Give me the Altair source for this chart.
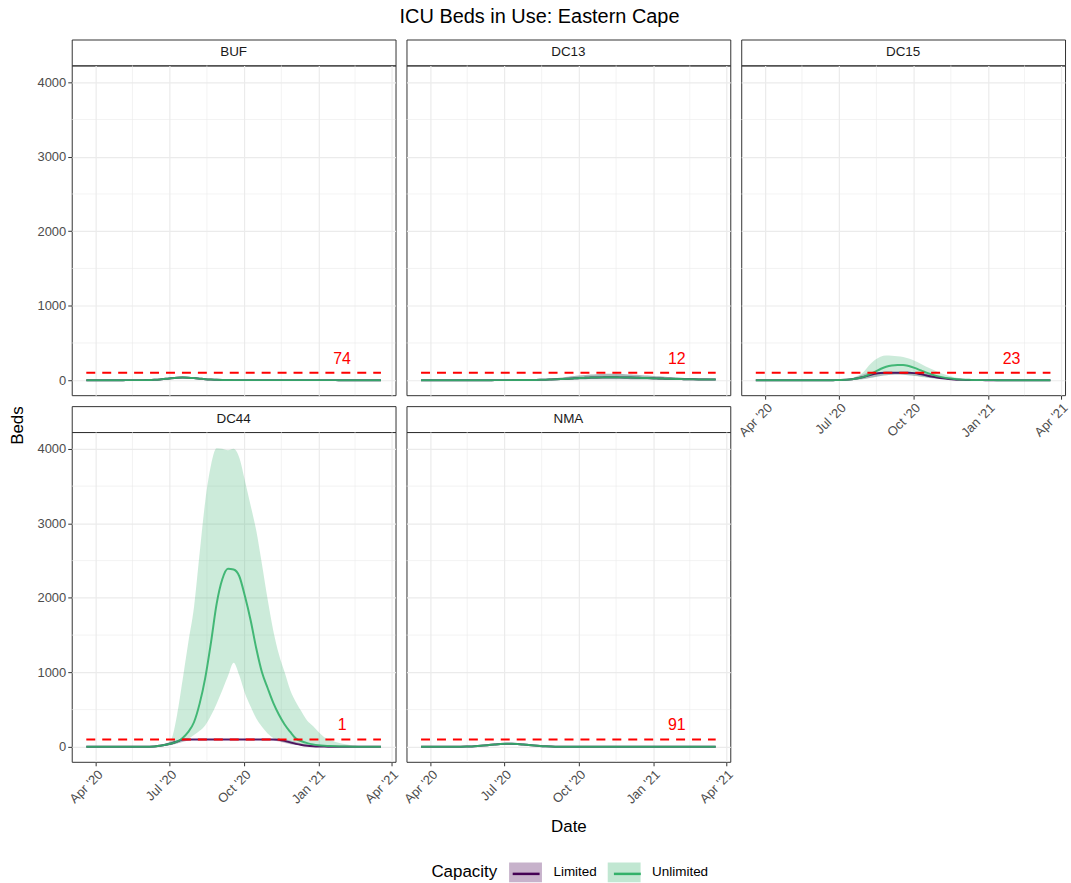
import altair as alt
import pandas as pd

FONT = "Liberation Sans"

# ---------------------------------------------------------------- data
districts = ["BUF", "DC13", "DC15", "DC44", "NMA"]
capacities = ["Limited", "Unlimited"]
cap_beds = [100, 100, 100, 100, 100]
cap_text = ["74", "12", "23", "1", "91"]

# weekly model output, 2020-03-20 .. 2021-03-19
dates = pd.date_range("2020-03-20", periods=53, freq="7D").strftime("%Y-%m-%d").tolist()

buf_mid = [0, 0, 0, 0, 0, 0, 0, 1, 1, 1,
           1, 2, 5, 10, 18, 26, 32, 35, 33, 28,
           21, 14, 9, 5, 3, 2, 1, 1, 1, 1,
           1, 1, 1, 1, 1, 1, 1, 1, 1, 1,
           1, 1, 1, 1, 1, 0, 0, 0, 0, 0,
           0, 0, 0]
buf_lo = [0, 0, 0, 0, 0, 0, 0, 0, 0, 0,
          0, 1, 3, 7, 13, 19, 24, 26, 25, 21,
          15, 10, 6, 3, 2, 1, 0, 0, 0, 0,
          0, 0, 0, 0, 0, 0, 0, 0, 0, 0,
          0, 0, 0, 0, 0, 0, 0, 0, 0, 0,
          0, 0, 0]
buf_hi = [0, 0, 0, 0, 0, 0, 1, 1, 2, 2,
          3, 5, 9, 15, 25, 35, 42, 46, 44, 38,
          29, 20, 13, 8, 5, 3, 2, 2, 1, 1,
          1, 1, 1, 1, 1, 1, 1, 1, 1, 1,
          1, 1, 1, 1, 1, 1, 0, 0, 0, 0,
          0, 0, 0]

dc13_mid = [0, 0, 0, 0, 0, 0, 0, 0, 0, 0,
            0, 0, 0, 1, 1, 1, 1, 2, 2, 3,
            4, 5, 7, 10, 13, 17, 21, 25, 29, 32,
            35, 37, 38, 39, 39, 38, 37, 35, 33, 31,
            28, 26, 23, 21, 19, 17, 15, 13, 12, 11,
            10, 9, 8]
dc13_lo = [0, 0, 0, 0, 0, 0, 0, 0, 0, 0,
           0, 0, 0, 0, 0, 0, 0, 0, 1, 1,
           1, 2, 2, 3, 4, 5, 7, 8, 10, 11,
           12, 13, 13, 13, 13, 13, 12, 11, 10, 9,
           8, 7, 6, 5, 5, 4, 4, 3, 3, 3,
           2, 2, 2]
dc13_hi = [0, 0, 0, 0, 0, 0, 0, 0, 0, 0,
           0, 1, 1, 2, 2, 3, 3, 4, 5, 7,
           9, 12, 16, 22, 29, 37, 46, 55, 63, 70,
           76, 81, 84, 86, 86, 84, 81, 77, 72, 67,
           62, 57, 52, 47, 42, 38, 34, 30, 27, 24,
           22, 20, 18]

dc15_u_mid = [0, 0, 0, 0, 0, 0, 0, 0, 0, 0,
              0, 0, 0, 0, 1, 2, 5, 12, 25, 45,
              75, 110, 150, 180, 198, 205, 205, 190, 165, 135,
              105, 78, 55, 38, 25, 16, 10, 6, 4, 2,
              1, 1, 1, 0, 0, 0, 0, 0, 0, 0,
              0, 0, 0]
dc15_u_lo = [0, 0, 0, 0, 0, 0, 0, 0, 0, 0,
             0, 0, 0, 0, 0, 1, 2, 3, 5, 12,
             25, 40, 55, 65, 72, 75, 72, 65, 55, 45,
             35, 26, 18, 12, 8, 5, 3, 2, 1, 1,
             0, 0, 0, 0, 0, 0, 0, 0, 0, 0,
             0, 0, 0]
dc15_u_hi = [0, 0, 0, 0, 0, 0, 0, 0, 0, 0,
             0, 0, 0, 1, 2, 5, 12, 30, 60, 110,
             200, 270, 315, 330, 328, 320, 310, 290, 260, 225,
             185, 150, 115, 85, 60, 40, 26, 16, 10, 6,
             3, 2, 1, 1, 0, 0, 0, 0, 0, 0,
             0, 0, 0]
dc15_l_mid = [0, 0, 0, 0, 0, 0, 0, 0, 0, 0,
              0, 0, 0, 0, 1, 2, 5, 12, 25, 42,
              65, 85, 97, 100, 100, 100, 100, 100, 95, 82,
              66, 50, 36, 25, 17, 11, 7, 4, 2, 1,
              1, 0, 0, 0, 0, 0, 0, 0, 0, 0,
              0, 0, 0]
dc15_l_lo = [0, 0, 0, 0, 0, 0, 0, 0, 0, 0,
             0, 0, 0, 0, 0, 1, 2, 4, 8, 15,
             28, 42, 55, 65, 72, 75, 74, 68, 60, 50,
             40, 30, 22, 15, 10, 6, 4, 2, 1, 1,
             0, 0, 0, 0, 0, 0, 0, 0, 0, 0,
             0, 0, 0]
dc15_l_hi = [0, 0, 0, 0, 0, 0, 0, 0, 0, 0,
             0, 0, 0, 1, 2, 5, 12, 25, 50, 80,
             100, 100, 100, 100, 100, 100, 100, 100, 100, 100,
             95, 80, 62, 46, 33, 22, 14, 9, 5, 3,
             2, 1, 1, 0, 0, 0, 0, 0, 0, 0,
             0, 0, 0]

dc44_u_mid = [0, 0, 0, 0, 0, 0, 0, 0, 0, 0,
              1, 2, 5, 15, 28, 45, 70, 120, 200, 330,
              580, 930, 1400, 1920, 2250, 2390, 2380, 2290, 2020, 1700,
              1320, 1000, 790, 590, 430, 300, 200, 110, 75, 50,
              33, 22, 15, 10, 7, 5, 3, 2, 2, 1,
              1, 0, 0]
dc44_u_lo = [0, 0, 0, 0, 0, 0, 0, 0, 0, 0,
             0, 0, 1, 4, 10, 25, 45, 70, 110, 160,
             215, 290, 420, 580, 760, 950, 1130, 960, 720, 540,
             380, 270, 180, 120, 85, 60, 40, 28, 20, 14,
             10, 7, 5, 3, 2, 2, 1, 0, 0, 0,
             0, 0, 0]
dc44_u_hi = [0, 0, 0, 0, 0, 0, 0, 0, 0, 1,
             2, 4, 8, 18, 40, 100, 420, 900, 1400, 1870,
             2600, 3300, 3780, 4010, 4000, 3980, 4000, 3880, 3570, 3240,
             2900, 2450, 1980, 1560, 1240, 1000, 760, 600, 470, 350,
             280, 200, 130, 95, 65, 45, 30, 20, 12, 8,
             5, 3, 2]
dc44_l_mid = [0, 0, 0, 0, 0, 0, 0, 0, 0, 0,
              1, 2, 5, 15, 28, 45, 70, 97, 100, 100,
              100, 100, 100, 100, 100, 100, 100, 100, 100, 100,
              100, 100, 100, 100, 95, 80, 60, 40, 25, 15,
              9, 5, 3, 2, 1, 1, 0, 0, 0, 0,
              0, 0, 0]
dc44_l_lo = [0, 0, 0, 0, 0, 0, 0, 0, 0, 0,
             0, 1, 3, 8, 16, 28, 45, 65, 85, 95,
             99, 99, 99, 99, 99, 99, 99, 99, 99, 99,
             99, 99, 95, 85, 70, 52, 36, 24, 15, 9,
             6, 4, 2, 1, 0, 0, 0, 0, 0, 0,
             0, 0, 0]
dc44_l_hi = [0, 0, 0, 0, 0, 0, 0, 0, 0, 1,
             2, 4, 10, 25, 45, 70, 92, 100, 100, 100,
             100, 100, 100, 100, 100, 100, 100, 100, 100, 100,
             100, 100, 100, 100, 100, 98, 85, 65, 45, 30,
             19, 12, 8, 5, 3, 2, 1, 0, 0, 0,
             0, 0, 0]

nma_mid = [0, 0, 0, 0, 0, 0, 0, 1, 3, 6,
           11, 17, 24, 31, 37, 40, 40, 37, 31, 24,
           17, 11, 7, 4, 2, 1, 1, 1, 1, 1,
           1, 1, 1, 1, 1, 1, 1, 1, 1, 1,
           0, 0, 0, 0, 0, 0, 0, 0, 0, 0,
           0, 0, 0]
nma_lo = [0, 0, 0, 0, 0, 0, 0, 0, 2, 4,
          8, 13, 18, 23, 28, 30, 30, 28, 23, 18,
          12, 8, 5, 3, 1, 0, 0, 0, 0, 0,
          0, 0, 0, 0, 0, 0, 0, 0, 0, 0,
          0, 0, 0, 0, 0, 0, 0, 0, 0, 0,
          0, 0, 0]
nma_hi = [0, 0, 0, 0, 0, 0, 1, 2, 4, 8,
          14, 22, 31, 40, 47, 51, 51, 47, 40, 31,
          22, 15, 10, 6, 3, 2, 1, 1, 1, 1,
          1, 1, 1, 1, 1, 1, 1, 1, 1, 1,
          0, 0, 0, 0, 0, 0, 0, 0, 0, 0,
          0, 0, 0]

# below capacity the limited and unlimited runs coincide
series = {
    ("BUF", "Limited"): (buf_lo, buf_mid, buf_hi),
    ("BUF", "Unlimited"): (buf_lo, buf_mid, buf_hi),
    ("DC13", "Limited"): (dc13_lo, dc13_mid, dc13_hi),
    ("DC13", "Unlimited"): (dc13_lo, dc13_mid, dc13_hi),
    ("DC15", "Limited"): (dc15_l_lo, dc15_l_mid, dc15_l_hi),
    ("DC15", "Unlimited"): (dc15_u_lo, dc15_u_mid, dc15_u_hi),
    ("DC44", "Limited"): (dc44_l_lo, dc44_l_mid, dc44_l_hi),
    ("DC44", "Unlimited"): (dc44_u_lo, dc44_u_mid, dc44_u_hi),
    ("NMA", "Limited"): (nma_lo, nma_mid, nma_hi),
    ("NMA", "Unlimited"): (nma_lo, nma_mid, nma_hi),
}

# the line legend gets its own keys so that it stays separate from the
# ribbon legend; it only contributes the line through each key box
line_keys = [c + " line" for c in capacities]

rows = []
for (dist, capac), (lo, mid, hi) in series.items():
    beds = cap_beds[districts.index(dist)]
    key = line_keys[capacities.index(capac)]
    for i, day in enumerate(dates):
        rows.append({"district": dist, "capacity": capac, "series": key,
                     "date": day, "lo": lo[i], "mid": mid[i], "hi": hi[i],
                     "cap": beds})
df = pd.DataFrame(rows)

# axis breaks
tick_dates = ["2020-04-01", "2020-07-01", "2020-10-01", "2021-01-01", "2021-04-01"]
minor_dates = ["2020-05-16", "2020-08-16", "2020-11-16", "2021-02-15"]
y_ticks = [0, 1000, 2000, 3000, 4000]
y_minor = [500, 1500, 2500, 3500]
x_limits = ["2020-03-02", "2021-04-06"]
y_limits = [-201, 4226]

# anchor of the capacity annotation
label_date = "2021-01-30"
label_y = 290

# ---------------------------------------------------------------- styling
W, H, SH = 325, 331, 26
GRID = "#EBEBEB"
LIMITED = "#440154"
UNLIMITED = "#33B16A"
RED = "#FF0000"
TICK_FS = 13
STRIP_FS = 13.5
TITLE_FS = 17
LEGEND_FS = 13.5


def dt(s):
    y, m, d = map(int, s.split("-"))
    return alt.DateTime(year=y, month=m, date=d, utc=True)


x_scale = alt.Scale(type="utc", domain=[dt(s) for s in x_limits])
y_scale = alt.Scale(domain=y_limits, nice=False, zero=False)

fill_scale = alt.Scale(domain=capacities, range=[LIMITED, UNLIMITED])
stroke_scale = alt.Scale(domain=line_keys, range=[LIMITED, UNLIMITED])

# legend geometry: key boxes sit in 20px slots
LX, LY = 361, 826
TITLE_W = 66.1          # width of "Capacity" at TITLE_FS
TITLE_PAD = 17.5
LABEL_OFF = 18
COL_PAD = 10
LIMITED_W = 43.6        # width of "Limited" at LEGEND_FS

fill_legend = alt.Legend(
    title="Capacity", orient="none", legendX=LX, legendY=LY,
    direction="horizontal", titleOrient="left", titleAnchor="middle",
    titleBaseline="middle", titleFontSize=TITLE_FS, titleFontWeight="normal",
    titleColor="black", titleFont=FONT, titlePadding=TITLE_PAD,
    labelFontSize=LEGEND_FS, labelColor="black", labelFont=FONT,
    labelOffset=LABEL_OFF, columnPadding=COL_PAD, symbolSize=400,
    symbolType="M-1.65,-1L1.65,-1L1.65,1L-1.65,1Z",
    symbolOpacity=0.3, symbolStrokeWidth=0, zindex=1)
stroke_legend = alt.Legend(
    title=None, orient="none", legendX=LX + TITLE_W + TITLE_PAD, legendY=LY,
    direction="horizontal", labelExpr="''", labelFontSize=LEGEND_FS,
    labelOffset=LABEL_OFF, columnPadding=COL_PAD + LIMITED_W, symbolSize=400,
    symbolType="M-1.35,0L1.35,0", symbolStrokeWidth=2.5, zindex=2)


def x_axis(show, title=None):
    common = dict(values=[dt(s) for s in tick_dates], grid=True,
                  gridColor=GRID, gridWidth=1.2, domain=False)
    if not show:
        return alt.Axis(labels=False, ticks=False, title=None, minExtent=0,
                        **common)
    return alt.Axis(format="%b '%y", labelAngle=-45, labelAlign="right",
                    labelBaseline="top", labelPadding=2, labelFlush=False,
                    labelOverlap=False, labelFontSize=TICK_FS,
                    labelColor="#4D4D4D", labelFont=FONT, tickSize=4,
                    tickColor="#333333", title=title, titleFontSize=TITLE_FS,
                    titleFontWeight="normal", titleColor="black",
                    titleFont=FONT, titlePadding=12, **common)


def y_axis(show):
    common = dict(values=y_ticks, grid=True, gridColor=GRID, gridWidth=1.2,
                  domain=False, title=None)
    if not show:
        return alt.Axis(labels=False, ticks=False, minExtent=0, **common)
    return alt.Axis(format="d", labelFontSize=TICK_FS, labelColor="#4D4D4D",
                    labelFont=FONT, labelPadding=2, tickSize=4,
                    tickColor="#333333", **common)


def panel(name, show_x, show_y, x_title=None, y_title=None):
    xa = x_axis(show_x, x_title)
    ya = y_axis(show_y)

    def X():
        return alt.X("date:T", scale=x_scale, axis=xa)

    def Y(f):
        return alt.Y(f"{f}:Q", scale=y_scale, axis=ya)

    sub = df[df["district"] == name]
    idx = districts.index(name)

    minor_x = alt.Chart(pd.DataFrame({"date": minor_dates})).mark_rule(
        stroke=GRID, strokeWidth=0.6).encode(x=X())
    minor_y = alt.Chart(pd.DataFrame({"v": y_minor})).mark_rule(
        stroke=GRID, strokeWidth=0.6).encode(y=Y("v"))
    ribbons = alt.Chart(sub).mark_area(opacity=0.25, interpolate="monotone").encode(
        x=X(), y=Y("lo"), y2=alt.Y2("hi:Q"),
        fill=alt.Fill("capacity:N", scale=fill_scale, legend=fill_legend))
    lines = alt.Chart(sub).mark_line(
        strokeWidth=2, strokeOpacity=0.9, interpolate="monotone").encode(
        x=X(), y=Y("mid"),
        stroke=alt.Stroke("series:N", scale=stroke_scale, legend=stroke_legend))
    cap_line = alt.Chart(sub).transform_filter(
        alt.datum.capacity == "Unlimited").mark_line(
        color=RED, strokeDash=[9, 7], strokeWidth=2).encode(x=X(), y=Y("cap"))
    label = alt.Chart(pd.DataFrame({"date": [label_date], "ly": [label_y],
                                    "txt": [cap_text[idx]]})).mark_text(
        color=RED, fontSize=16, font=FONT).encode(x=X(), y=Y("ly"), text="txt:N")

    layers = [minor_x, minor_y, ribbons, lines, cap_line, label]
    if y_title:
        # shared y title, centred in the gap between the two rows of panels
        layers.append(alt.Chart(pd.DataFrame({"t": [y_title]})).mark_text(
            angle=270, fontSize=TITLE_FS, font=FONT, color="black",
            baseline="middle", align="center").encode(
            text="t:N", x=alt.value(-54), y=alt.value(-6.5)))

    plot = alt.layer(*layers).properties(width=W, height=H)

    strip = alt.Chart(pd.DataFrame({"name": [name]})).mark_text(
        fontSize=STRIP_FS, color="#1A1A1A", font=FONT, baseline="middle").encode(
        text="name:N", x=alt.value(W / 2), y=alt.value(SH / 2)).properties(
        width=W, height=SH)

    return alt.vconcat(strip, plot, spacing=0, bounds="flush")


col1 = alt.vconcat(panel("BUF", False, True),
                   panel("DC44", True, True, y_title="Beds"), spacing=9)
col2 = alt.vconcat(panel("DC13", False, False),
                   panel("NMA", True, False, x_title="Date"), spacing=9)
col3 = alt.vconcat(panel("DC15", True, False), spacing=9)

chart = alt.hconcat(col1, col2, col3, spacing=0).properties(
    title=alt.TitleParams("ICU Beds in Use: Eastern Cape", fontSize=20,
                          font=FONT, fontWeight="normal", color="black",
                          anchor="middle", offset=12),
    padding={"left": 8, "top": 5, "right": 0, "bottom": 0},
    background="white",
).configure(font=FONT).configure_view(stroke="#333333", strokeWidth=1)

chart.save("out.html", embed_options={"renderer": "svg", "actions": False})
